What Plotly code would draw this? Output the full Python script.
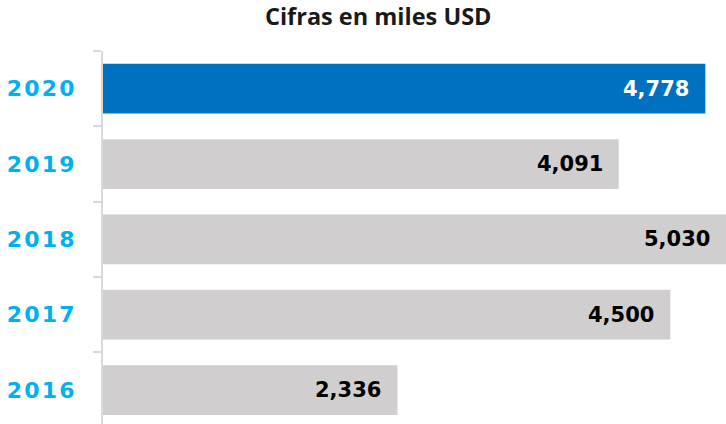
import plotly.graph_objects as go

years = ["2016", "2017", "2018", "2019", "2020"]
values = [2336, 4500, 5030, 4091, 4778]
labels = ["2,336", "4,500", "5,030", "4,091", "4,778"]
title_text = "Cifras en miles USD"

highlight = "2020"
blue = "#0070C0"
gray = "#D0CECE"
x_max = 4942

colors = [blue if y == highlight else gray for y in years]
text_colors = ["#FFFFFF" if y == highlight else "#000000" for y in years]
spaced_years = ["\u200a".join(list(y)) for y in years]

fig = go.Figure()
fig.add_trace(go.Bar(
    x=values, y=years, orientation="h",
    marker=dict(color=colors, line=dict(width=0)),
    hoverinfo="skip",
))

for i, (v, t, c) in enumerate(zip(values, labels, text_colors)):
    fig.add_annotation(
        x=min(v, x_max), y=i, xref="x", yref="y",
        text="<b>" + t + "</b>", showarrow=False,
        xanchor="right", yanchor="middle", xshift=-14,
        font=dict(family="DejaVu Sans", size=21, color=c),
    )

fig.update_layout(
    width=726, height=424,
    margin=dict(l=103, r=0, t=51, b=0),
    paper_bgcolor="white", plot_bgcolor="white",
    bargap=0.34,
    showlegend=False,
    title=dict(
        text="<b>" + title_text + "</b>",
        x=0.521, xref="container", xanchor="center",
        y=0.96, yref="container", yanchor="middle",
        font=dict(family="Open Sans", size=23.5, color="#1a1a1a"),
    ),
    xaxis=dict(range=[0, x_max], showticklabels=False, showline=False,
               showgrid=False, zeroline=False, ticks="", fixedrange=True),
    yaxis=dict(
        type="category", range=[-0.45, 4.5],
        tickmode="array", tickvals=years, ticktext=spaced_years,
        showline=True, linecolor="#D9D9D9", linewidth=2,
        ticks="outside", ticklen=8, tickwidth=1.5, tickcolor="#D9D9D9",
        tickson="boundaries", showgrid=False,
        ticklabelstandoff=22,
        tickfont=dict(family="DejaVu Sans", size=22, color="#00B0F0", weight="bold"),
    ),
)

fig.write_html("out.html")
